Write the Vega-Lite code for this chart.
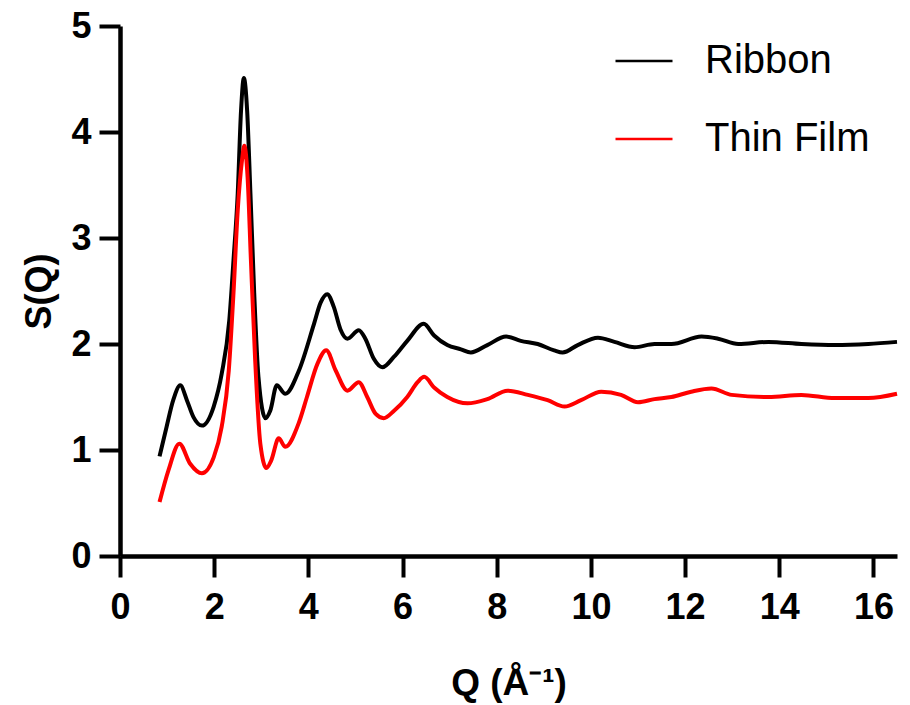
{
  "$schema": "https://vega.github.io/schema/vega-lite/v6.json",
  "width": 777,
  "height": 530,
  "autosize": {"type": "none"},
  "padding": {"left": 120, "top": 26, "right": 13, "bottom": 149},
  "background": "white",
  "config": {"view": {"stroke": null}, "font": "Liberation Sans"},
  "data": {
    "values": [
      {"q": 0.84, "s": 0.94, "sample": "Ribbon"},
      {"q": 0.99, "s": 1.22, "sample": "Ribbon"},
      {"q": 1.13, "s": 1.47, "sample": "Ribbon"},
      {"q": 1.28, "s": 1.61, "sample": "Ribbon"},
      {"q": 1.42, "s": 1.47, "sample": "Ribbon"},
      {"q": 1.56, "s": 1.31, "sample": "Ribbon"},
      {"q": 1.74, "s": 1.23, "sample": "Ribbon"},
      {"q": 1.99, "s": 1.41, "sample": "Ribbon"},
      {"q": 2.16, "s": 1.72, "sample": "Ribbon"},
      {"q": 2.32, "s": 2.22, "sample": "Ribbon"},
      {"q": 2.41, "s": 2.79, "sample": "Ribbon"},
      {"q": 2.5, "s": 3.42, "sample": "Ribbon"},
      {"q": 2.57, "s": 4.2, "sample": "Ribbon"},
      {"q": 2.63, "s": 4.51, "sample": "Ribbon"},
      {"q": 2.7, "s": 4.2, "sample": "Ribbon"},
      {"q": 2.77, "s": 3.42, "sample": "Ribbon"},
      {"q": 2.85, "s": 2.48, "sample": "Ribbon"},
      {"q": 2.94, "s": 1.69, "sample": "Ribbon"},
      {"q": 3.09, "s": 1.3, "sample": "Ribbon"},
      {"q": 3.19, "s": 1.37, "sample": "Ribbon"},
      {"q": 3.33, "s": 1.61, "sample": "Ribbon"},
      {"q": 3.51, "s": 1.53, "sample": "Ribbon"},
      {"q": 3.8, "s": 1.75, "sample": "Ribbon"},
      {"q": 4.12, "s": 2.19, "sample": "Ribbon"},
      {"q": 4.26, "s": 2.39, "sample": "Ribbon"},
      {"q": 4.4, "s": 2.47, "sample": "Ribbon"},
      {"q": 4.54, "s": 2.35, "sample": "Ribbon"},
      {"q": 4.68, "s": 2.14, "sample": "Ribbon"},
      {"q": 4.83, "s": 2.05, "sample": "Ribbon"},
      {"q": 5.07, "s": 2.13, "sample": "Ribbon"},
      {"q": 5.21, "s": 2.05, "sample": "Ribbon"},
      {"q": 5.39, "s": 1.86, "sample": "Ribbon"},
      {"q": 5.57, "s": 1.78, "sample": "Ribbon"},
      {"q": 5.82, "s": 1.88, "sample": "Ribbon"},
      {"q": 6.1, "s": 2.03, "sample": "Ribbon"},
      {"q": 6.45, "s": 2.19, "sample": "Ribbon"},
      {"q": 6.67, "s": 2.08, "sample": "Ribbon"},
      {"q": 6.95, "s": 1.99, "sample": "Ribbon"},
      {"q": 7.24, "s": 1.95, "sample": "Ribbon"},
      {"q": 7.45, "s": 1.92, "sample": "Ribbon"},
      {"q": 7.8, "s": 1.99, "sample": "Ribbon"},
      {"q": 8.2, "s": 2.07, "sample": "Ribbon"},
      {"q": 8.51, "s": 2.03, "sample": "Ribbon"},
      {"q": 8.87, "s": 2.0, "sample": "Ribbon"},
      {"q": 9.22, "s": 1.94, "sample": "Ribbon"},
      {"q": 9.4, "s": 1.92, "sample": "Ribbon"},
      {"q": 9.72, "s": 1.99, "sample": "Ribbon"},
      {"q": 10.15, "s": 2.06, "sample": "Ribbon"},
      {"q": 10.5, "s": 2.02, "sample": "Ribbon"},
      {"q": 10.93, "s": 1.97, "sample": "Ribbon"},
      {"q": 11.35, "s": 2.0, "sample": "Ribbon"},
      {"q": 11.71, "s": 2.0, "sample": "Ribbon"},
      {"q": 12.35, "s": 2.07, "sample": "Ribbon"},
      {"q": 12.7, "s": 2.05, "sample": "Ribbon"},
      {"q": 13.13, "s": 2.0, "sample": "Ribbon"},
      {"q": 13.77, "s": 2.02, "sample": "Ribbon"},
      {"q": 14.47, "s": 2.0, "sample": "Ribbon"},
      {"q": 15.18, "s": 1.99, "sample": "Ribbon"},
      {"q": 15.89, "s": 2.0, "sample": "Ribbon"},
      {"q": 16.5, "s": 2.02, "sample": "Ribbon"},
      {"q": 0.84, "s": 0.51, "sample": "Thin Film"},
      {"q": 1.03, "s": 0.81, "sample": "Thin Film"},
      {"q": 1.26, "s": 1.06, "sample": "Thin Film"},
      {"q": 1.49, "s": 0.87, "sample": "Thin Film"},
      {"q": 1.74, "s": 0.78, "sample": "Thin Film"},
      {"q": 1.99, "s": 0.93, "sample": "Thin Film"},
      {"q": 2.16, "s": 1.22, "sample": "Thin Film"},
      {"q": 2.31, "s": 1.75, "sample": "Thin Film"},
      {"q": 2.41, "s": 2.48, "sample": "Thin Film"},
      {"q": 2.5, "s": 3.26, "sample": "Thin Film"},
      {"q": 2.59, "s": 3.73, "sample": "Thin Film"},
      {"q": 2.64, "s": 3.87, "sample": "Thin Film"},
      {"q": 2.71, "s": 3.57, "sample": "Thin Film"},
      {"q": 2.78, "s": 2.79, "sample": "Thin Film"},
      {"q": 2.87, "s": 1.85, "sample": "Thin Film"},
      {"q": 2.98, "s": 1.06, "sample": "Thin Film"},
      {"q": 3.11, "s": 0.83, "sample": "Thin Film"},
      {"q": 3.21, "s": 0.9, "sample": "Thin Film"},
      {"q": 3.37, "s": 1.11, "sample": "Thin Film"},
      {"q": 3.51, "s": 1.03, "sample": "Thin Film"},
      {"q": 3.8, "s": 1.26, "sample": "Thin Film"},
      {"q": 3.97, "s": 1.5, "sample": "Thin Film"},
      {"q": 4.19, "s": 1.81, "sample": "Thin Film"},
      {"q": 4.38, "s": 1.94, "sample": "Thin Film"},
      {"q": 4.58, "s": 1.75, "sample": "Thin Film"},
      {"q": 4.83, "s": 1.56, "sample": "Thin Film"},
      {"q": 5.07, "s": 1.64, "sample": "Thin Film"},
      {"q": 5.25, "s": 1.5, "sample": "Thin Film"},
      {"q": 5.43, "s": 1.34, "sample": "Thin Film"},
      {"q": 5.6, "s": 1.3, "sample": "Thin Film"},
      {"q": 5.82, "s": 1.37, "sample": "Thin Film"},
      {"q": 6.1, "s": 1.5, "sample": "Thin Film"},
      {"q": 6.32, "s": 1.64, "sample": "Thin Film"},
      {"q": 6.46, "s": 1.69, "sample": "Thin Film"},
      {"q": 6.67, "s": 1.59, "sample": "Thin Film"},
      {"q": 6.95, "s": 1.5, "sample": "Thin Film"},
      {"q": 7.38, "s": 1.44, "sample": "Thin Film"},
      {"q": 7.8, "s": 1.48, "sample": "Thin Film"},
      {"q": 8.23, "s": 1.56, "sample": "Thin Film"},
      {"q": 8.66, "s": 1.52, "sample": "Thin Film"},
      {"q": 9.08, "s": 1.47, "sample": "Thin Film"},
      {"q": 9.44, "s": 1.41, "sample": "Thin Film"},
      {"q": 9.79, "s": 1.47, "sample": "Thin Film"},
      {"q": 10.22, "s": 1.55, "sample": "Thin Film"},
      {"q": 10.64, "s": 1.52, "sample": "Thin Film"},
      {"q": 11.0, "s": 1.45, "sample": "Thin Film"},
      {"q": 11.35, "s": 1.48, "sample": "Thin Film"},
      {"q": 11.71, "s": 1.5, "sample": "Thin Film"},
      {"q": 12.13, "s": 1.55, "sample": "Thin Film"},
      {"q": 12.56, "s": 1.58, "sample": "Thin Film"},
      {"q": 12.99, "s": 1.52, "sample": "Thin Film"},
      {"q": 13.77, "s": 1.5, "sample": "Thin Film"},
      {"q": 14.47, "s": 1.52, "sample": "Thin Film"},
      {"q": 15.18, "s": 1.49, "sample": "Thin Film"},
      {"q": 15.89, "s": 1.49, "sample": "Thin Film"},
      {"q": 16.5, "s": 1.53, "sample": "Thin Film"}
    ]
  },
  "mark": {"type": "line", "strokeWidth": 4, "strokeJoin": "round", "interpolate": "monotone"},
  "encoding": {
    "x": {
      "field": "q",
      "type": "quantitative",
      "scale": {"domain": [0, 16.5], "nice": false, "zero": false},
      "axis": {
        "title": "Q (Å⁻¹)",
        "values": [0, 2, 4, 6, 8, 10, 12, 14, 16],
        "grid": false,
        "domainColor": "black",
        "domainWidth": 4.5,
        "tickColor": "black",
        "tickWidth": 4,
        "tickSize": 21,
        "labelFont": "Liberation Sans",
        "labelFontWeight": "bold",
        "labelFontSize": 36,
        "labelColor": "black",
        "labelPadding": 13,
        "labelFlush": false,
        "titleFont": "Liberation Sans",
        "titleFontSize": 37,
        "titleFontWeight": "bold",
        "titleColor": "black",
        "titlePadding": 40
      }
    },
    "y": {
      "field": "s",
      "type": "quantitative",
      "scale": {"domain": [0, 5], "nice": false},
      "axis": {
        "title": "S(Q)",
        "values": [0, 1, 2, 3, 4, 5],
        "grid": false,
        "domainColor": "black",
        "domainWidth": 4.5,
        "tickColor": "black",
        "tickWidth": 4,
        "tickSize": 21,
        "labelFont": "Liberation Sans",
        "labelFontWeight": "bold",
        "labelFontSize": 36,
        "labelColor": "black",
        "labelPadding": 8,
        "labelFlush": false,
        "titleFont": "Liberation Sans",
        "titleFontSize": 36,
        "titleFontWeight": "bold",
        "titleColor": "black",
        "titlePadding": 12
      }
    },
    "color": {
      "field": "sample",
      "type": "nominal",
      "scale": {"domain": ["Ribbon", "Thin Film"], "range": ["#000000", "#ff0000"]},
      "legend": {
        "title": null,
        "orient": "none",
        "legendX": 494,
        "legendY": 5,
        "padding": 0,
        "symbolType": "stroke",
        "symbolSize": 3249,
        "symbolStrokeWidth": 2.5,
        "labelFont": "Liberation Sans",
        "labelFontSize": 40,
        "labelColor": "black",
        "labelOffset": 31,
        "labelLimit": 400,
        "rowPadding": 28
      }
    }
  }
}
